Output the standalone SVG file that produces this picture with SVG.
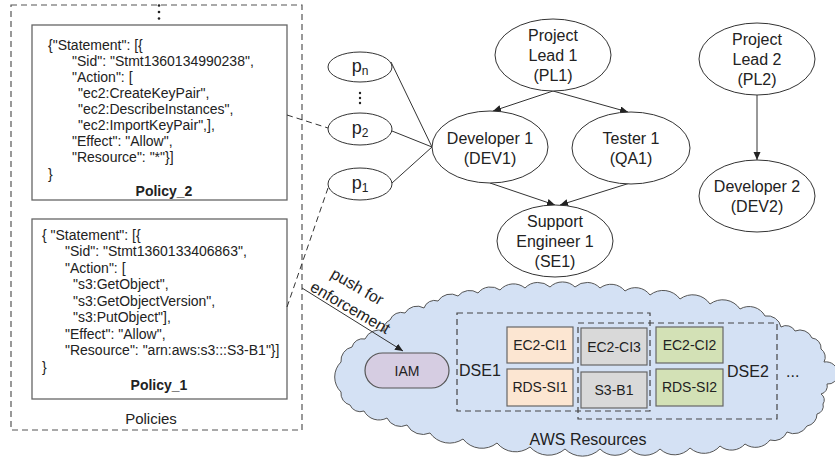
<svg xmlns="http://www.w3.org/2000/svg" width="835" height="457" viewBox="0 0 835 457">
<defs>
<marker id="arr" markerWidth="9" markerHeight="8" refX="8" refY="3.5" orient="auto" markerUnits="userSpaceOnUse">
<path d="M0,0 L8,3.5 L0,7 z" fill="#222"/>
</marker>
<style>
text{font-family:"Liberation Sans",Arial,sans-serif;fill:#222}
.json{font-size:14px}
.lbl{font-size:14px;font-weight:bold;text-anchor:middle}
.node{fill:#fff;stroke:#333;stroke-width:1}
.nt{font-size:16px;text-anchor:middle}
.pt{font-size:18px;text-anchor:middle}
.pbox{fill:#fff;stroke:#666;stroke-width:1.3}
.dash{fill:none;stroke:#555;stroke-width:1.2;stroke-dasharray:6 4}
.dse{fill:none;stroke:#444;stroke-width:1.2;stroke-dasharray:6 4}
.res{stroke:#666;stroke-width:1.2}
.rt{font-size:14px;text-anchor:middle}
.edge{fill:none;stroke:#333;stroke-width:1}
.dl{fill:none;stroke:#333;stroke-width:1;stroke-dasharray:6 4}
</style>
</defs>

<g id="cloud">
<path fill="#d4e1f4" stroke="#555" stroke-width="1" d="M341,392 A21,21 0 0 1 341,362 A14,14 0 0 1 352,347 A11,11 0 0 1 365,339 A15,15 0 0 1 384,331 A10,10 0 0 1 390,320 A12,12 0 0 1 405,313 A14,14 0 0 1 424,308 A11,11 0 0 1 438,301 A15,15 0 0 1 458,296 A15,15 0 0 1 478,293 A16,16 0 0 1 500,290 A18,18 0 0 1 525,288 A18,18 0 0 1 550,287 A18,18 0 0 1 575,287 A18,18 0 0 1 600,288 A18,18 0 0 1 625,291 A18,18 0 0 1 650,295 A21,21 0 0 1 680,299 A21,21 0 0 1 710,304 A21,21 0 0 1 740,309 A18,18 0 0 1 765,316 A14,14 0 0 1 781,327 A10,10 0 0 1 795,331 A13,13 0 0 1 812,338 A10,10 0 0 1 821,349 A10,10 0 0 1 824,362 A12,12 0 0 1 838,374 A10,10 0 0 1 827,384 A8,8 0 0 1 821,394 A7,7 0 0 1 823,404 A8,8 0 0 1 817,414 A12,12 0 0 1 807,426 A15,15 0 0 1 787,432 A14,14 0 0 1 770,440 A18,18 0 0 1 745,444 A18,18 0 0 1 720,446 A21,21 0 0 1 690,448 A21,21 0 0 1 660,449 A21,21 0 0 1 630,449 A21,21 0 0 1 600,449 A25,25 0 0 1 565,449 A25,25 0 0 1 530,447 A24,24 0 0 1 497,443 A24,24 0 0 1 463,439 A24,24 0 0 1 430,433 A18,18 0 0 1 407,425 A15,15 0 0 1 387,418 A17,17 0 0 1 364,411 A11,11 0 0 1 350,405 A12,12 0 0 1 341,392 Z"/>
<text x="588" y="445" style="font-size:16px;text-anchor:middle">AWS Resources</text>
</g>

<g id="policies">
<rect x="11" y="5" width="291" height="425" class="dash"/>
<circle cx="159" cy="5.5" r="1.3" fill="#222"/>
<circle cx="159" cy="12" r="1.3" fill="#222"/>
<circle cx="159" cy="18.5" r="1.3" fill="#222"/>
<text x="151" y="424" style="font-size:15px;text-anchor:middle">Policies</text>
</g>

<g id="policy2">
<rect x="32" y="25" width="255" height="175" class="pbox"/>
<text class="json" x="48" y="50">{"Statement": [{</text>
<text class="json" x="72" y="66">"Sid": "Stmt1360134990238",</text>
<text class="json" x="72" y="82">"Action": [</text>
<text class="json" x="78" y="98">"ec2:CreateKeyPair",</text>
<text class="json" x="78" y="114">"ec2:DescribeInstances",</text>
<text class="json" x="78" y="130">"ec2:ImportKeyPair",],</text>
<text class="json" x="72" y="146">"Effect": "Allow",</text>
<text class="json" x="72" y="162">"Resource": "*"}]</text>
<text class="json" x="48" y="179">}</text>
<text class="lbl" x="164" y="196">Policy_2</text>
</g>

<g id="policy1">
<rect x="32" y="219" width="255" height="180" class="pbox"/>
<text class="json" x="42" y="240">{ "Statement": [{</text>
<text class="json" x="65" y="256">"Sid": "Stmt1360133406863",</text>
<text class="json" x="65" y="273">"Action": [</text>
<text class="json" x="73" y="289">"s3:GetObject",</text>
<text class="json" x="73" y="306">"s3:GetObjectVersion",</text>
<text class="json" x="73" y="322">"s3:PutObject"],</text>
<text class="json" x="65" y="339">"Effect": "Allow",</text>
<text class="json" x="65" y="355">"Resource": "arn:aws:s3:::S3-B1"}]</text>
<text class="json" x="42" y="372">}</text>
<text class="lbl" x="159" y="390">Policy_1</text>
</g>

<g id="connectors">
<path class="edge" d="M553,91 L493,111" marker-end="url(#arr)"/>
<path class="edge" d="M553,91 L628,112" marker-end="url(#arr)"/>
<path class="edge" d="M490,183 L555,205" marker-end="url(#arr)"/>
<path class="edge" d="M630,183 L560,205" marker-end="url(#arr)"/>
<path class="edge" d="M757,95 L757,160" marker-end="url(#arr)"/>
<path class="edge" d="M391,62 L432,147"/>
<path class="edge" d="M392,131 L432,147"/>
<path class="edge" d="M392,183 L432,147"/>
<path class="dl" d="M287,115 L328,128"/>
<path class="dl" d="M287,307 L328,188"/>
<path class="edge" d="M302,288 L403,351" marker-end="url(#arr)"/>
<text x="357" y="292" transform="rotate(30 357 287)" style="font-size:16px;text-anchor:middle">push for</text>
<text x="350" y="313" transform="rotate(30 350 308)" style="font-size:16px;text-anchor:middle">enforcement</text>
</g>

<g id="pn">
<ellipse cx="360" cy="67" rx="32" ry="15" class="node"/>
<text class="pt" x="360" y="72">p<tspan font-size="12" dy="3">n</tspan></text>
</g>
<g id="pdots">
<circle cx="360" cy="93" r="1.2" fill="#222"/>
<circle cx="360" cy="98" r="1.2" fill="#222"/>
<circle cx="360" cy="103" r="1.2" fill="#222"/>
</g>
<g id="p2">
<ellipse cx="360" cy="129" rx="32" ry="16" class="node"/>
<text class="pt" x="360" y="134">p<tspan font-size="12" dy="3">2</tspan></text>
</g>
<g id="p1">
<ellipse cx="360" cy="184" rx="32" ry="16" class="node"/>
<text class="pt" x="360" y="189">p<tspan font-size="12" dy="3">1</tspan></text>
</g>

<g id="PL1">
<ellipse cx="553" cy="55" rx="58" ry="36" class="node"/>
<text class="nt" x="553" y="41">Project</text>
<text class="nt" x="553" y="61">Lead 1</text>
<text class="nt" x="553" y="81">(PL1)</text>
</g>
<g id="DEV1">
<ellipse cx="490" cy="147" rx="58" ry="36" class="node"/>
<text class="nt" x="490" y="144">Developer 1</text>
<text class="nt" x="490" y="164">(DEV1)</text>
</g>
<g id="QA1">
<ellipse cx="631" cy="148" rx="59" ry="36" class="node"/>
<text class="nt" x="631" y="144">Tester 1</text>
<text class="nt" x="631" y="164">(QA1)</text>
</g>
<g id="SE1">
<ellipse cx="555" cy="241" rx="58" ry="36" class="node"/>
<text class="nt" x="555" y="227">Support</text>
<text class="nt" x="555" y="247">Engineer 1</text>
<text class="nt" x="555" y="267">(SE1)</text>
</g>
<g id="PL2">
<ellipse cx="757" cy="59" rx="58" ry="36" class="node"/>
<text class="nt" x="757" y="45">Project</text>
<text class="nt" x="757" y="65">Lead 2</text>
<text class="nt" x="757" y="85">(PL2)</text>
</g>
<g id="DEV2">
<ellipse cx="757" cy="196" rx="58" ry="36" class="node"/>
<text class="nt" x="757" y="192">Developer 2</text>
<text class="nt" x="757" y="212">(DEV2)</text>
</g>

<g id="IAM">
<rect x="365" y="353" width="84" height="35" rx="17.5" fill="#d6cde2" stroke="#555" stroke-width="1.2"/>
<text class="rt" x="407" y="376">IAM</text>
</g>

<g id="DSE1">
<rect x="457" y="313" width="193" height="98" class="dse"/>
<text x="459" y="376" style="font-size:16px">DSE1</text>
</g>
<g id="DSE2">
<rect x="578" y="323" width="199" height="96" class="dse"/>
<text x="727" y="377" style="font-size:16px">DSE2</text>
</g>
<g id="more">
<text x="786" y="377" style="font-size:16px">...</text>
</g>

<g id="EC2-CI1">
<rect x="507" y="327" width="66" height="36" fill="#fce6d2" class="res"/>
<text class="rt" x="540" y="350">EC2-CI1</text>
</g>
<g id="RDS-SI1">
<rect x="507" y="369" width="66" height="37" fill="#fce6d2" class="res"/>
<text class="rt" x="540" y="392">RDS-SI1</text>
</g>
<g id="EC2-CI3">
<rect x="581" y="328" width="66" height="37" fill="#d9d9d9" class="res"/>
<text class="rt" x="614" y="352">EC2-CI3</text>
</g>
<g id="S3-B1">
<rect x="581" y="372" width="66" height="36" fill="#d9d9d9" class="res"/>
<text class="rt" x="614" y="395">S3-B1</text>
</g>
<g id="EC2-CI2">
<rect x="656" y="327" width="67" height="36" fill="#d3e1b6" class="res"/>
<text class="rt" x="689.5" y="350">EC2-CI2</text>
</g>
<g id="RDS-SI2">
<rect x="656" y="369" width="67" height="37" fill="#d3e1b6" class="res"/>
<text class="rt" x="689.5" y="392">RDS-SI2</text>
</g>
</svg>
